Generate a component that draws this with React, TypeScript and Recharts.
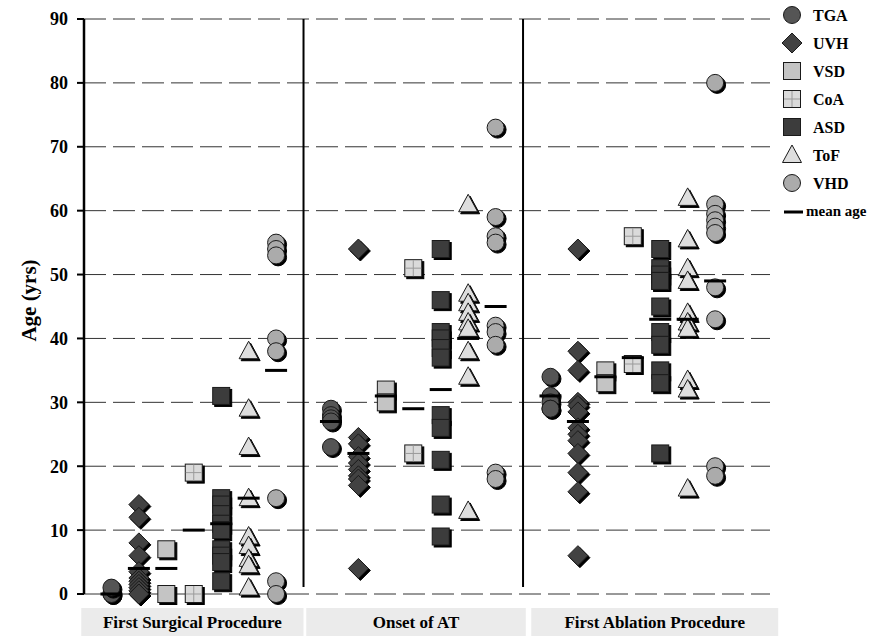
import React from "react";
import {
  ScatterChart,
  Scatter,
  XAxis,
  YAxis,
  CartesianGrid,
  ReferenceLine,
  Legend,
} from "recharts";

const groups = ["First Surgical Procedure", "Onset of AT", "First Ablation Procedure"];
const categories = ["TGA", "UVH", "VSD", "CoA", "ASD", "ToF", "VHD"];
const yTicks = [0, 10, 20, 30, 40, 50, 60, 70, 80, 90];

// ages (yrs) per group: [first surgical, onset of AT, first ablation]
const tgaAges = [[0, 0, 1], [29, 28, 27.5, 27, 23], [34, 31, 30, 29, 29]];
const uvhAges = [
  [14, 12, 8, 6, 3.5, 2.5, 2, 1.5, 1, 0.5, 0, 0],
  [54, 24.5, 23.5, 21.5, 20.5, 19.5, 18.5, 18, 17, 4],
  [54, 38, 35, 30, 29.5, 28.5, 26, 25, 24, 22, 19, 16, 6],
];
const vsdAges = [[7, 0], [32, 30], [35, 33]];
const coaAges = [[19, 0], [51, 22], [56, 36]];
const asdAges = [
  [31, 15, 14, 12.5, 11, 10, 7, 6, 5, 2],
  [54, 46, 41, 40, 38.5, 37, 28, 26, 21, 14, 9],
  [54, 51, 50, 49, 49, 45, 41, 39, 35, 33, 22],
];
const tofAges = [
  [38, 29, 23, 15, 9, 7.5, 5.5, 4.5, 1],
  [61, 47, 45.5, 44, 42.5, 41.5, 38, 34, 13],
  [62, 55.5, 51, 49, 44, 42.5, 41.5, 33.5, 32, 16.5],
];
const vhdAges = [
  [55, 54, 53, 40, 38, 15, 2, 0],
  [73, 59, 56, 55, 42, 41, 39, 19, 18],
  [80, 61, 59.5, 58.5, 57.5, 56.5, 48, 43, 20, 18.5],
];
// mean age per group, in category order
const meanAges = [
  [0, 4, 4, 10, 11, 15, 35],
  [27, 22, 31, 29, 32, 40, 45],
  [31, 27, 34, 37, 43, 43, 49],
];

const allAges = [tgaAges, uvhAges, vsdAges, coaAges, asdAges, tofAges, vhdAges];

// layout: each group takes 8 slots on the x axis
const SLOTS = 8;
const X_MAX = 25;
const PLOT_LEFT = 84;
const PLOT_RIGHT = 770;
const UNIT = (PLOT_RIGHT - PLOT_LEFT) / X_MAX;
const groupBoxes = [[-0.1, 8], [8.1, 16.1], [16.3, 25.3]];

const font = "'Liberation Serif', 'Times New Roman', serif";

const toPoints = (byGroup: number[][], k: number) =>
  byGroup.flatMap((ages, g) => ages.map((y) => ({ x: g * SLOTS + k + 1, y })));

const meanPoints = meanAges.flatMap((row, g) =>
  row.map((y, k) => ({ x: g * SLOTS + k + 1, y }))
);

const fills: Record<string, string> = {
  TGA: "#555555",
  UVH: "#424242",
  VSD: "#c4c4c4",
  CoA: "#dadada",
  ASD: "#3c3c3c",
  ToF: "#dedede",
  VHD: "#ababab",
};

const shapeOf = (kind: string, cx: number, cy: number, fill: string, stroke: string) => {
  switch (kind) {
    case "TGA":
    case "VHD":
      return <circle cx={cx} cy={cy} r={8.5} fill={fill} stroke={stroke} />;
    case "UVH":
      return (
        <polygon
          points={`${cx},${cy - 10} ${cx + 10},${cy} ${cx},${cy + 10} ${cx - 10},${cy}`}
          fill={fill}
          stroke={stroke}
        />
      );
    case "ToF":
      return (
        <polygon
          points={`${cx},${cy - 10} ${cx + 9.5},${cy + 7.5} ${cx - 9.5},${cy + 7.5}`}
          fill={fill}
          stroke={stroke}
        />
      );
    default:
      return <rect x={cx - 8.5} y={cy - 8.5} width={17} height={17} fill={fill} stroke={stroke} />;
  }
};

const Marker = ({ kind, cx, cy, shadow = true }: any) => (
  <g>
    {shadow && shapeOf(kind, cx + 2, cy + 2, "#000", "#000")}
    {shapeOf(kind, cx, cy, fills[kind], "#1a1a1a")}
    {kind === "CoA" && (
      <g stroke="#9a9a9a" strokeWidth={1}>
        <line x1={cx - 8} x2={cx + 8} y1={cy} y2={cy} />
        <line x1={cx} x2={cx} y1={cy - 8} y2={cy + 8} />
      </g>
    )}
  </g>
);

const MeanBar = ({ cx, cy }: any) => (
  <rect x={cx - 11} y={cy - 1.5} width={22} height={3} fill="#000" />
);

const GroupTick = ({ x, y, index }: any) => {
  const [a, b] = groupBoxes[index];
  const left = PLOT_LEFT + a * UNIT;
  const w = (b - a) * UNIT;
  return (
    <g>
      <rect x={left} y={y + 14} width={w} height={28} fill="#ebebeb" />
      <text
        x={left + w / 2}
        y={y + 34}
        textAnchor="middle"
        fontFamily={font}
        fontWeight="bold"
        fontSize={17}
        fill="#000"
      >
        {groups[index]}
      </text>
    </g>
  );
};

const AgeLabel = ({ viewBox }: any) => {
  const { x, y, height } = viewBox;
  return (
    <text
      transform={`translate(${x + 5}, ${y + height / 2 - 6}) rotate(-90)`}
      textAnchor="middle"
      dominantBaseline="central"
      fontFamily={font}
      fontWeight="bold"
      fontSize={21}
      fill="#000"
    >
      Age (yrs)
    </text>
  );
};

const LegendBox = () => (
  <svg width={101} height={225}>
    {categories.map((c, i) => (
      <g key={c}>
        <Marker kind={c} cx={16} cy={15 + 28 * i} shadow={false} />
        <text
          x={37}
          y={15 + 28 * i}
          dominantBaseline="central"
          fontFamily={font}
          fontWeight="bold"
          fontSize={16}
          fill="#000"
        >
          {c}
        </text>
      </g>
    ))}
    <rect x={8} y={210.5} width={19} height={3} fill="#000" />
    <text
      x={30}
      y={211}
      dominantBaseline="central"
      fontFamily={font}
      fontWeight="bold"
      fontSize={15}
      fill="#000"
    >
      mean age
    </text>
  </svg>
);

const groupTicks = groupBoxes.map(([a, b]) => (a + b) / 2);

export default function App() {
  return (
    <div style={{ position: "absolute", left: 0, top: 0 }}>
      <ScatterChart
        width={877}
        height={636}
        margin={{ top: 19, right: 877 - PLOT_RIGHT, bottom: 0, left: 24 }}
      >
        <CartesianGrid
          horizontal
          vertical={false}
          stroke="#333"
          strokeDasharray="22 7"
        />
        <XAxis
          type="number"
          dataKey="x"
          domain={[0, X_MAX]}
          ticks={groupTicks}
          interval={0}
          tick={<GroupTick />}
          axisLine={false}
          tickLine={false}
          tickSize={0}
          tickMargin={0}
          height={42}
          allowDataOverflow
        />
        <YAxis
          type="number"
          dataKey="y"
          domain={[0, 90]}
          ticks={yTicks}
          interval={0}
          width={60}
          axisLine={{ stroke: "#000", strokeWidth: 2.5 }}
          tickLine={{ stroke: "#000", strokeWidth: 2 }}
          tickSize={7}
          tickMargin={9}
          tick={{ fontFamily: font, fontWeight: "bold", fontSize: 18, fill: "#000" }}
          label={AgeLabel}
        />
        {[SLOTS, SLOTS * 2].map((x) => (
          <ReferenceLine
            key={x}
            segment={[{ x, y: 90 }, { x, y: 1.1 }]}
            stroke="#000"
            strokeWidth={2}
          />
        ))}
        {categories.map((c, k) => (
          <Scatter
            key={c}
            name={c}
            data={toPoints(allAges[k], k)}
            shape={(p: any) => <Marker kind={c} cx={p.cx} cy={p.cy} />}
            isAnimationActive={false}
          />
        ))}
        <Scatter
          name="mean age"
          data={meanPoints}
          shape={(p: any) => <MeanBar cx={p.cx} cy={p.cy} />}
          isAnimationActive={false}
        />
        <Legend
          layout="horizontal"
          verticalAlign="middle"
          align="center"
          content={() => <LegendBox />}
          wrapperStyle={{ left: 776, top: 0, width: 101, height: 225 }}
        />
      </ScatterChart>
    </div>
  );
}
